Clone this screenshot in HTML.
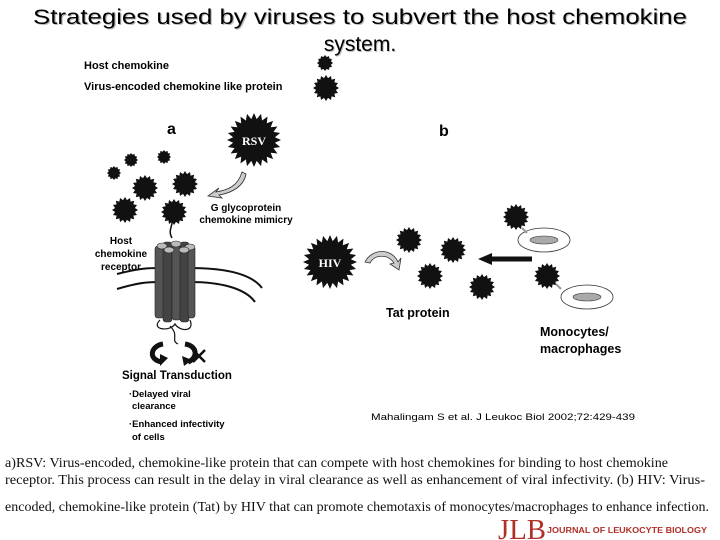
<!DOCTYPE html>
<html><head><meta charset="utf-8"><style>
body{margin:0;background:#fff;width:720px;height:540px;overflow:hidden}
svg{display:block}
text{font-family:"Liberation Sans",Arial,sans-serif}
.b{font-weight:bold}
.s{font-family:"Liberation Serif",serif}
</style></head><body>
<svg id="s" width="720" height="540" viewBox="0 0 720 540" xmlns="http://www.w3.org/2000/svg">
<text x="360" y="24" text-anchor="middle" font-size="21" textLength="654" lengthAdjust="spacingAndGlyphs" style="text-shadow:1px 1px 0 #bbb">Strategies used by viruses to subvert the host chemokine</text>
<text x="360" y="51" text-anchor="middle" font-size="21" style="text-shadow:1px 1px 0 #bbb">system.</text>
<text x="84" y="69" font-size="11" class="b">Host chemokine</text>
<text x="84" y="90" font-size="11" class="b">Virus-encoded chemokine like protein</text>
<text x="167" y="134" font-size="16" class="b">a</text>
<text x="439" y="136" font-size="16" class="b">b</text>
<g id="stars" fill="#111"></g>
<text x="254" y="145" font-size="12" fill="#fff" text-anchor="middle" class="s b">RSV</text>
<text x="330" y="267" font-size="12" fill="#fff" text-anchor="middle" class="s b">HIV</text>
<path d="M242,172 C238,186 228,190 216,192 L219,188 L208,196 L222,198 L219,195 C232,193 244,186 246,174 Z" fill="#ccc" stroke="#333" stroke-width="0.8"/>
<path d="M365,262 C372,248 392,248 398,262 L401,258 L399,270 L390,264 L394,263 C388,254 375,254 370,263 Z" fill="#ccc" stroke="#333" stroke-width="0.8"/>
<text x="246" y="211" font-size="10" text-anchor="middle" class="b">G glycoprotein</text>
<text x="246" y="223" font-size="10" text-anchor="middle" class="b">chemokine mimicry</text>
<text x="121" y="244" font-size="10" text-anchor="middle" class="b">Host</text>
<text x="121" y="257" font-size="10" text-anchor="middle" class="b">chemokine</text>
<text x="121" y="270" font-size="10" text-anchor="middle" class="b">receptor</text>
<path d="M117,274 C140,268 150,268 160,268 M117,289 C140,282 150,282 160,282 M190,268 C220,268 250,272 262,288 M190,282 C220,282 245,288 255,302" stroke="#111" stroke-width="2" fill="none"/>
<path d="M172,238 C166,228 178,222 168,216" stroke="#111" stroke-width="1.5" fill="none"/>
<g stroke="#222" stroke-width="0.6">
<rect x="155" y="246" width="9" height="72" rx="3" fill="#555"/>
<rect x="163" y="242" width="9" height="80" rx="3" fill="#444"/>
<rect x="172" y="246" width="9" height="74" rx="3" fill="#555"/>
<rect x="180" y="242" width="9" height="80" rx="3" fill="#444"/>
<rect x="188" y="246" width="7" height="72" rx="3" fill="#555"/>
<ellipse cx="162" cy="246" rx="5" ry="3" fill="#bbb"/><ellipse cx="176" cy="244" rx="5" ry="3" fill="#bbb"/>
<ellipse cx="190" cy="247" rx="5" ry="3" fill="#bbb"/><ellipse cx="169" cy="250" rx="5" ry="3" fill="#bbb"/>
<ellipse cx="184" cy="250" rx="5" ry="3" fill="#bbb"/>
</g>
<path d="M160,320 C150,330 170,332 175,324 C180,332 195,332 190,320 M170,326 C180,336 170,340 178,344" stroke="#111" stroke-width="1.2" fill="none"/>
<path d="M163,344 C150,346 148,360 162,362" stroke="#111" stroke-width="5" fill="none"/>
<path d="M168,358 L160,366 L160,354 Z" fill="#111"/>
<path d="M185,344 C198,346 198,358 188,362" stroke="#111" stroke-width="5" fill="none"/>
<path d="M182,356 L184,366 L192,360 Z" fill="#111"/>
<path d="M193,350 L205,362 M205,350 L193,362" stroke="#111" stroke-width="2.5"/>
<text x="122" y="379" font-size="11.5" class="b">Signal Transduction</text>
<text x="129" y="397" font-size="9.5" class="b">·Delayed viral</text>
<text x="132" y="409" font-size="9.5" class="b">clearance</text>
<text x="129" y="427" font-size="9.5" class="b">·Enhanced infectivity</text>
<text x="132" y="440" font-size="9.5" class="b">of cells</text>
<path d="M532,259 L490,259" stroke="#111" stroke-width="5"/>
<path d="M478,259 L492,253 L492,265 Z" fill="#111"/>
<ellipse cx="544" cy="240" rx="26" ry="12" fill="none" stroke="#333" stroke-width="0.8"/>
<ellipse cx="544" cy="240" rx="14" ry="4" fill="#aaa" stroke="#333" stroke-width="0.6"/>
<ellipse cx="587" cy="297" rx="26" ry="12" fill="none" stroke="#333" stroke-width="0.8"/>
<ellipse cx="587" cy="297" rx="14" ry="4" fill="#aaa" stroke="#333" stroke-width="0.6"/>
<path d="M522,228 L527,233 M556,284 L561,289" stroke="#999" stroke-width="2"/>
<text x="386" y="317" font-size="12.5" class="b">Tat protein</text>
<text x="540" y="336" font-size="12.5" class="b">Monocytes/</text>
<text x="540" y="353" font-size="12.5" class="b">macrophages</text>
<text x="371" y="420" font-size="9.5" textLength="264" lengthAdjust="spacingAndGlyphs">Mahalingam S et al. J Leukoc Biol 2002;72:429-439</text>
<g font-size="14" fill="#111">
<text x="5" y="467" textLength="663" lengthAdjust="spacingAndGlyphs" style="font-family:'Liberation Serif',serif">a)RSV: Virus-encoded, chemokine-like protein that can compete with host chemokines for binding to host chemokine</text>
<text x="5" y="484" textLength="700" lengthAdjust="spacingAndGlyphs" style="font-family:'Liberation Serif',serif">receptor. This process can result in the delay in viral clearance as well as enhancement of viral infectivity. (b) HIV: Virus-</text>
<text x="5" y="511" textLength="704" lengthAdjust="spacingAndGlyphs" style="font-family:'Liberation Serif',serif">encoded, chemokine-like protein (Tat) by HIV that can promote chemotaxis of monocytes/macrophages to enhance infection.</text>
</g>
<text x="498" y="539" font-size="28" fill="#b03028" style="font-family:'Liberation Serif',serif" textLength="48" lengthAdjust="spacingAndGlyphs">JLB</text>
<text x="547" y="533" font-size="8" fill="#b03028" class="b" textLength="160" lengthAdjust="spacingAndGlyphs">JOURNAL OF LEUKOCYTE BIOLOGY</text>
</svg>
<script>
var g=document.getElementById('stars');
var st=[[325,63,8,12],[326,88,13,16],[254,140,27,24],[330,262,27,24],
[114,173,7,12],[131,160,7,12],[164,157,7,12],
[145,188,13,16],[185,184,13,16],[125,210,13,16],[174,212,13,16],
[409,240,13,16],[453,250,13,16],[430,276,13,16],[482,287,13,16],[516,217,13,16],[547,276,13,16]];
st.forEach(function(s){var p=[],n=s[3];for(var i=0;i<2*n;i++){var r=i%2?s[2]*0.78:s[2];var a=Math.PI*i/n;p.push((s[0]+r*Math.cos(a)).toFixed(1)+','+(s[1]+r*Math.sin(a)).toFixed(1));}
var e=document.createElementNS('http://www.w3.org/2000/svg','polygon');e.setAttribute('points',p.join(' '));g.appendChild(e);});
</script>
</body></html>
